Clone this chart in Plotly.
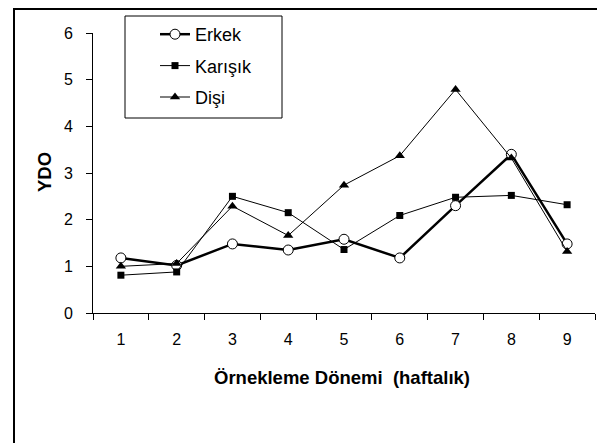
import plotly.graph_objects as go

periods = ["1", "2", "3", "4", "5", "6", "7", "8", "9"]
erkek = [1.18, 1.02, 1.48, 1.35, 1.58, 1.18, 2.30, 3.40, 1.48]
karisik = [0.81, 0.88, 2.50, 2.15, 1.36, 2.09, 2.48, 2.52, 2.32]
disi = [1.00, 1.06, 2.29, 1.66, 2.74, 3.37, 4.79, 3.32, 1.32]
y_ticks = [0, 1, 2, 3, 4, 5, 6]

OFF = 8  # page body margin offset
W, H = 605 - OFF, 443 - OFF
ML, MT = 93 - OFF, 33 - OFF
PW, PH = 502, 280
MR, MB = W - ML - PW, H - MT - PH

def px_x(p):
    return (p - OFF - ML) / PW

def px_y(p):
    return (MT + PH - (p - OFF)) / PH

font = "Liberation Sans, Arial, sans-serif"

fig = go.Figure()
fig.add_trace(go.Scatter(
    x=periods, y=erkek, name="Erkek", mode="lines+markers", legendgroup="a",
    line=dict(color="black", width=2.5),
    marker=dict(symbol="circle", size=10, color="white",
                line=dict(color="black", width=1)),
))
fig.add_trace(go.Scatter(
    x=periods, y=karisik, name="Karışık", mode="lines+markers", legendgroup="b",
    line=dict(color="black", width=1),
    marker=dict(symbol="square", size=7, color="black"),
))
fig.add_trace(go.Scatter(
    x=periods, y=disi, name="Dişi", mode="lines+markers", legendgroup="c",
    line=dict(color="black", width=1),
    marker=dict(symbol="triangle-up", size=9, color="black"),
))

fig.update_layout(
    width=W, height=H,
    margin=dict(l=ML, r=MR, t=MT, b=MB, autoexpand=False),
    paper_bgcolor="white", plot_bgcolor="white",
    font=dict(family=font, color="black", size=16),
    showlegend=True,
    legend=dict(
        x=px_x(155), y=px_y(16), xanchor="left", yanchor="top",
        bgcolor="rgba(0,0,0,0)", borderwidth=0,
        font=dict(size=18, family=font, color="black"),
        tracegroupgap=5, traceorder="grouped",
    ),
    xaxis=dict(
        type="category", range=[-0.5, 8.5],
        showline=True, linecolor="black", linewidth=1,
        ticks="outside", ticklen=6, tickcolor="black", tickson="boundaries",
        showgrid=False, zeroline=False,
        tickfont=dict(size=16), ticklabelstandoff=12,
    ),
    yaxis=dict(
        range=[0, 6], tickvals=y_ticks,
        showline=True, linecolor="black", linewidth=1,
        ticks="outside", ticklen=6, tickcolor="black",
        showgrid=False, zeroline=False,
        tickfont=dict(size=16), ticklabelstandoff=10,
    ),
    shapes=[
        dict(type="rect", xref="paper", yref="paper",
             x0=px_x(125), x1=px_x(282), y0=px_y(118), y1=px_y(16),
             line=dict(color="black", width=1), fillcolor="rgba(0,0,0,0)"),
        dict(type="rect", xref="paper", yref="paper",
             x0=px_x(14), x1=px_x(602), y0=px_y(470), y1=px_y(9),
             line=dict(color="black", width=2), fillcolor="rgba(0,0,0,0)"),
    ],
    annotations=[
        dict(text="<b>Örnekleme Dönemi  (haftalık)</b>", xref="paper", yref="paper",
             x=px_x(342), y=px_y(377), xanchor="center", yanchor="middle",
             showarrow=False, font=dict(size=18.5, family=font)),
        dict(text="<b>YDO</b>", xref="paper", yref="paper",
             x=px_x(44), y=px_y(172), xanchor="center", yanchor="middle",
             textangle=-90, showarrow=False, font=dict(size=18.5, family=font)),
    ],
)

fig.write_html("out.html")
